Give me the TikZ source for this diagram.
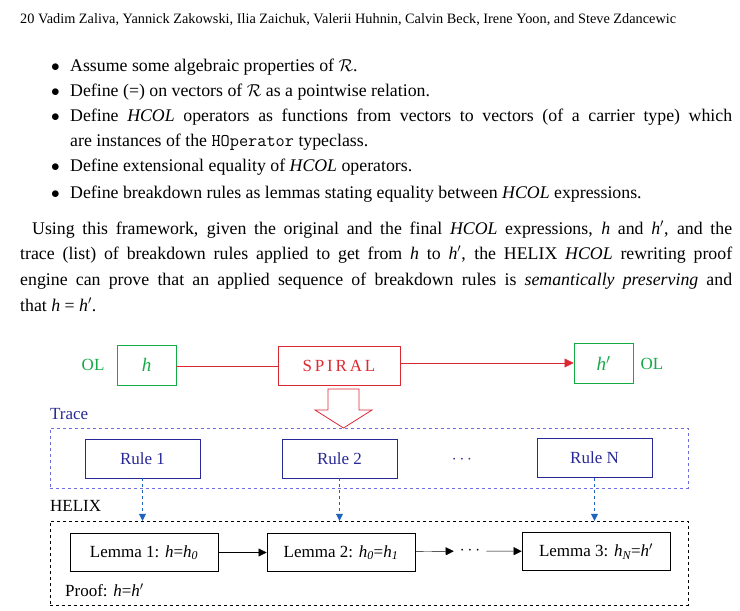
\documentclass[tikz,border=0pt]{standalone}
\usepackage{fontspec}
\setmainfont{Liberation Serif}
\usetikzlibrary{arrows.meta, positioning}
\definecolor{olgreen}{RGB}{20,170,70}
\definecolor{spred}{RGB}{220,40,50}
\definecolor{trblue}{RGB}{40,40,150}
\definecolor{trdash}{RGB}{110,110,220}
\definecolor{arblue}{RGB}{30,100,190}
\tikzset{
    txt/.style={anchor=base west, inner sep=0pt, font=\fontsize{17.8}{20}\selectfont},
    olbox/.style={draw=olgreen, thick, minimum width=59pt, minimum height=40pt, text=olgreen, font=\fontsize{19}{22}\selectfont},
    rulebox/.style={draw=trblue, thick, minimum width=115pt, minimum height=39pt, text=trblue, font=\fontsize{17}{20}\selectfont},
    lemmabox/.style={draw, thick, minimum width=148pt, minimum height=38pt, font=\fontsize{17}{20}\selectfont},
    lbl/.style={font=\fontsize{17}{20}\selectfont, inner sep=0pt},
    tracearrow/.style={arblue, dashed, -{Triangle[length=7pt,width=7pt]}}
}
\newcommand{\vh}{\textit{h}}
\begin{document}
\begin{tikzpicture}[x=1pt, y=-1pt]
    \useasboundingbox (0,0) rectangle (740,611);
    % page text
    \node (Header) [anchor=base west, inner sep=0pt, font=\fontsize{14.3}{16}\selectfont] at (20,23)
        {20 Vadim Zaliva, Yannick Zakowski, Ilia Zaichuk, Valerii Huhnin, Calvin Beck, Irene Yoon, and Steve Zdancewic};
    \foreach \y/\t [count=\i] in {71/{Assume some algebraic properties of $\mathcal{R}$.},
        96/{Define (=) on vectors of $\mathcal{R}$ as a pointwise relation.},
        171/{Define extensional equality of \textit{HCOL} operators.},
        198/{Define breakdown rules as lemmas stating equality between \textit{HCOL} expressions.}}
        \node (Bullet\i) [txt] at (51,\y) {\makebox[19pt][l]{$\bullet$}\t};
    \node (BulletC) [txt] at (51,121) {\makebox[19pt][l]{$\bullet$}\makebox[662pt][s]{Define \textit{HCOL} operators as functions from vectors to vectors (of a carrier type) which}};
    \node (BulletD) [txt] at (70,146) {are instances of the \texttt{HOperator} typeclass.};
    \node (Par1) [txt] at (32,234) {\makebox[700pt][s]{Using this framework, given the original and the final \textit{HCOL} expressions, \vh{} and \vh$'$, and the}};
    \node (Par2) [txt] at (20,259) {\makebox[712pt][s]{trace (list) of breakdown rules applied to get from \vh{} to \vh$'$, the HELIX \textit{HCOL} rewriting proof}};
    \node (Par3) [txt] at (20,285) {\makebox[712pt][s]{engine can prove that an applied sequence of breakdown rules is \textit{semantically preserving} and}};
    \node (Par4) [txt] at (20,311) {that \vh{} = \vh$'$.};

    % top row
    \node (H) [olbox] at (146.5,365) {\vh};
    \node (OLa) [lbl, text=olgreen, left=12pt of H] {OL};
    \node (Spiral) [draw=spred, thick, minimum width=122pt, minimum height=39pt, text=spred, font=\fontsize{17}{20}\selectfont] at (339,365.5) {S\,P\,I\,R\,A\,L};
    \node (Hp) [olbox] at (603.5,363.5) {\vh$'$};
    \node (OLb) [lbl, text=olgreen, right=7pt of Hp] {OL};
    \draw[spred] (H.east |- 0,366) -- (Spiral.west |- 0,366);
    \draw[spred, -{Triangle[length=9pt,width=9pt]}] (Spiral.east |- 0,363) -- (Hp.west |- 0,363);
    % hollow arrow down
    \draw[spred, thick] (328,389) -- (359,389) -- (359,410) -- (372,410) -- (343.5,428)
        -- (315,410) -- (328,410) -- cycle;

    % trace
    \node (TraceLbl) [lbl, text=trblue, anchor=west] at (50,414) {Trace};
    \node (Trace) [draw=trdash, dashed, minimum width=638pt, minimum height=60pt] at (369,458) {};
    \node (R1) [rulebox] at (142.5,458.5) {Rule 1};
    \node (R2) [rulebox] at (339.5,458.5) {Rule 2};
    \node (RN) [rulebox] at (594.5,458) {Rule N};
    \node (RDots) [lbl, text=trblue] at (462,460) {$\cdots$};

    % helix
    \node (HelixLbl) [lbl, anchor=west] at (50,506) {HELIX};
    \node (Helix) [draw, dashed, minimum width=638pt, minimum height=84pt] at (369,563) {};
    \node (L1) [lemmabox] at (144,552.5) {Lemma 1: \vh=\vh$_{\mathit{0}}$};
    \node (L2) [lemmabox] at (341,552.5) {Lemma 2: \vh$_{\mathit{0}}$=\vh$_{\mathit{1}}$};
    \node (L3) [lemmabox] at (596,551.5) {Lemma 3: \vh$_{\mathit{N}}$=\vh$'$};
    \node (LDots) [lbl, inner xsep=6pt] at (470,551) {$\cdots$};
    \node (Proof) [lbl, anchor=west] at (65,590) {Proof: \vh=\vh$'$};
    \draw[-{Triangle[length=8pt,width=8pt]}] (L1) -- (L2);
    \draw[-{Triangle[length=8pt,width=8pt]}] (L2) -- (LDots);
    \draw[-{Triangle[length=8pt,width=8pt]}] (LDots) -- (L3);

    % trace to helix
    \foreach \r in {R1, R2, RN}
        \draw[tracearrow] (\r.south) -- (\r.south |- Helix.north);
\end{tikzpicture}
\end{document}
